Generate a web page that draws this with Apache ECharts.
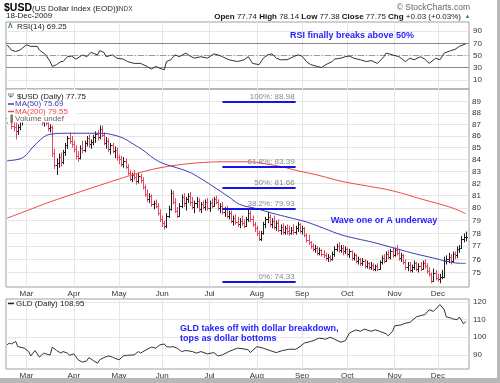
<!DOCTYPE html>
<html><head><meta charset="utf-8">
<script src="https://cdn.jsdelivr.net/npm/echarts@6/dist/echarts.min.js"></script>
<style>html,body{margin:0;padding:0;background:#fff}#c{width:500px;height:383px}</style>
</head><body><div id="c"></div>
<script>
// ---- categories (trading-day index, month starts) ----
const monthNames = ['Mar','Apr','May','Jun','Jul','Aug','Sep','Oct','Nov','Dec'];
const monthStartIdx = [9,31,52,72,94,116,137,158,180,200];
const dayCount = 214; // 17-Feb-2009 .. 18-Dec-2009

// ---- $USD daily bars [open, high, low, close] ----
const usdOHLC = [
[87.6,88.2,87.1,87.9],[87.9,88.4,87.3,87.5],[87.5,87.8,86.6,86.9],[86.9,87.4,86.4,86.8],[86.8,87.3,85.7,86.4],
[86.4,87.0,86.1,86.8],[86.8,87.6,86.5,87.3],[87.3,87.9,86.9,87.6],[87.6,88.3,87.3,88.1],
[88.1,88.9,87.9,88.6],[88.6,89.2,88.3,88.98],[88.98,89.1,88.2,88.5],[88.5,88.9,87.8,88.1],[88.1,88.6,87.5,87.8],
[87.8,88.4,87.4,88.2],[88.2,88.5,87.3,87.5],[87.5,87.9,86.9,87.2],[87.2,87.7,86.8,87.4],[87.4,87.6,86.9,87.1],
[87.1,87.2,86.4,86.7],[86.7,87.0,86.3,86.8],[86.8,86.9,84.2,84.5],[84.5,84.9,83.2,83.5],[83.5,84.1,82.7,83.7],
[83.7,84.5,83.3,84.2],[84.2,84.6,83.4,83.8],[83.8,84.8,83.6,84.6],[84.6,85.4,84.3,85.2],[85.2,86.0,84.9,85.8],
[85.8,86.3,85.3,85.6],[85.6,86.0,85.0,85.3],
[85.3,85.6,84.6,84.9],[84.9,85.2,84.0,84.3],[84.3,84.7,83.8,84.1],[84.1,85.2,84.0,85.0],[85.0,85.6,84.5,84.8],
[84.8,85.6,84.6,85.4],[85.4,86.0,85.1,85.8],[85.8,86.1,85.0,85.3],[85.3,85.7,84.9,85.5],[85.5,86.1,85.2,85.9],
[85.9,86.4,85.4,86.2],[86.2,86.5,85.6,85.9],[85.9,86.9,85.7,86.6],[86.6,86.9,85.9,86.1],[86.1,86.3,85.2,85.4],
[85.4,85.9,84.9,85.6],[85.6,85.8,84.6,84.9],[84.9,85.4,84.4,85.2],[85.2,85.4,84.5,84.7],[84.7,85.1,84.1,84.8],
[84.8,85.0,83.9,84.2],
[84.2,84.4,83.6,84.0],[84.0,84.3,83.4,83.6],[83.6,84.2,83.3,83.9],[83.9,84.1,83.2,83.4],[83.4,83.6,82.7,82.9],
[82.9,83.1,82.2,82.4],[82.4,82.9,82.1,82.7],[82.7,83.1,82.3,82.5],[82.5,82.8,81.9,82.2],[82.2,82.9,82.0,82.6],
[82.6,82.8,82.0,82.3],[82.3,82.5,81.5,81.7],[81.7,81.9,80.9,81.1],[81.1,81.5,80.5,80.7],[80.7,81.2,80.4,81.0],
[81.0,81.1,80.1,80.3],[80.3,80.6,79.9,80.4],[80.4,80.7,80.0,80.2],[80.2,80.4,79.4,79.6],[79.6,79.9,78.9,79.1],
[79.1,79.4,78.5,78.8],[78.8,79.0,78.3,78.6],[78.6,79.6,78.4,79.4],[79.4,80.2,79.2,79.9],[79.9,81.5,79.8,81.2],
[81.2,81.4,80.3,80.5],[80.5,80.8,79.6,79.8],[79.8,80.1,79.2,79.4],[79.4,80.4,79.3,80.2],[80.2,81.1,80.0,80.9],
[80.9,81.2,80.1,80.4],[80.4,80.9,79.8,80.7],[80.7,81.2,80.4,81.0],[81.0,81.3,80.2,80.5],[80.5,80.9,79.9,80.1],
[80.1,80.6,79.6,80.4],[80.4,80.9,80.0,80.6],[80.6,80.8,79.7,79.9],[79.9,80.5,79.6,80.3],[80.3,80.6,79.9,80.1],
[80.1,80.7,79.8,80.5],[80.5,80.8,79.8,80.0],
[80.0,80.6,79.7,80.4],[80.4,80.8,80.0,80.2],[80.2,80.9,80.1,80.7],[80.7,81.0,80.3,80.5],[80.5,80.7,79.8,80.0],
[80.0,80.4,79.6,80.2],[80.2,80.5,79.5,79.7],[79.7,80.1,79.3,79.9],[79.9,80.2,79.2,79.4],[79.4,79.8,79.1,79.6],
[79.6,79.8,78.8,79.0],[79.0,79.4,78.6,79.2],[79.2,79.5,78.7,78.9],[78.9,79.3,78.5,78.7],[78.7,79.2,78.4,79.0],
[79.0,79.4,78.6,78.8],[78.8,79.1,78.4,78.6],[78.6,79.3,78.5,79.1],[79.1,79.9,78.9,79.6],[79.6,79.8,78.9,79.1],
[79.1,79.4,78.5,78.7],[78.7,78.9,78.1,78.4],
[78.4,78.6,77.8,78.0],[78.0,78.2,77.4,77.6],[77.6,78.2,77.4,78.0],[78.0,78.9,77.9,78.7],[78.7,79.3,78.4,79.1],
[79.1,79.7,78.8,79.3],[79.3,79.5,78.5,78.7],[78.7,79.2,78.4,79.0],[79.0,79.4,78.3,78.5],[78.5,79.0,78.2,78.8],
[78.8,79.1,78.1,78.3],[78.3,78.7,77.9,78.5],[78.5,78.8,77.9,78.1],[78.1,78.6,77.9,78.4],[78.4,78.7,77.9,78.2],
[78.2,78.6,77.8,78.0],[78.0,78.5,77.9,78.3],[78.3,78.7,77.9,78.1],[78.1,78.6,77.9,78.4],[78.4,78.9,78.1,78.7],
[78.7,78.8,78.0,78.2],
[78.2,78.6,77.9,78.4],[78.4,78.5,77.7,77.9],[77.9,78.0,77.3,77.5],[77.5,77.9,77.1,77.3],[77.3,77.4,76.8,77.0],
[77.0,77.2,76.6,76.8],[76.8,77.1,76.5,76.9],[76.9,77.0,76.3,76.5],[76.5,76.9,76.3,76.7],[76.7,76.8,76.2,76.4],
[76.4,76.7,76.1,76.3],[76.3,76.5,75.9,76.1],[76.1,76.4,75.8,76.2],[76.2,76.3,75.8,76.0],[76.0,76.6,75.9,76.4],
[76.4,77.0,76.2,76.8],[76.8,77.2,76.6,77.0],[77.0,77.3,76.5,76.7],[76.7,77.1,76.5,76.9],[76.9,77.1,76.3,76.6],
[76.6,77.0,76.4,76.8],
[76.8,76.9,76.2,76.4],[76.4,76.8,76.1,76.6],[76.6,76.7,75.9,76.1],[76.1,76.5,75.9,76.3],[76.3,76.4,75.7,75.9],
[75.9,76.2,75.6,76.0],[76.0,76.1,75.5,75.7],[75.7,76.1,75.5,75.9],[75.9,76.0,75.3,75.5],[75.5,75.9,75.3,75.7],
[75.7,75.8,75.2,75.4],[75.4,75.8,75.2,75.6],[75.6,75.7,75.1,75.3],[75.3,75.6,75.1,75.5],[75.5,75.7,75.1,75.3],
[75.3,75.9,75.2,75.8],[75.8,76.3,75.6,76.1],[76.1,76.4,75.7,75.9],[75.9,76.6,75.8,76.4],[76.4,76.7,76.0,76.2],
[76.2,76.8,76.0,76.6],[76.6,76.9,76.1,76.3],
[76.3,76.9,76.2,76.7],[76.7,77.1,76.3,76.5],[76.5,76.8,75.9,76.1],[76.1,76.5,75.8,76.3],[76.3,76.4,75.6,75.8],
[75.8,76.0,75.2,75.4],[75.4,75.8,75.1,75.6],[75.6,75.8,75.0,75.2],[75.2,75.6,75.0,75.4],[75.4,75.9,75.2,75.7],
[75.7,75.8,75.1,75.3],[75.3,75.7,75.0,75.5],[75.5,75.8,75.1,75.3],[75.3,75.9,75.2,75.7],[75.7,76.0,75.3,75.5],
[75.5,75.7,74.9,75.1],[75.1,75.4,74.7,74.9],[74.9,75.0,74.2,74.4],[74.4,75.3,74.3,75.0],[75.0,75.2,74.4,74.6],
[74.6,74.9,74.3,74.5],[74.5,74.9,74.2,74.7],[74.7,75.2,74.5,74.7],[74.7,76.2,74.6,75.9],[75.9,76.3,75.6,76.0],
[76.0,76.5,75.7,76.2],[76.2,76.4,75.6,75.9],[75.9,76.6,75.8,76.4],[76.4,76.6,76.0,76.3],[76.3,77.0,76.1,76.8],
[76.8,77.1,76.5,76.9],[76.9,77.8,76.8,77.6],[77.6,78.0,77.3,77.7],[77.74,78.14,77.38,77.75]
];

// ---- moving averages [day index, value] ----
const ma50 = [[0,83.88],[6,84.05],[9,84.4],[12,85.05],[17,85.9],[20,86.14],[28,86.23],[35,86.23],[43,86.23],[48,86.14],
[54,85.8],[58,85.37],[63,84.8],[68,84.1],[72,83.7],[77,83.4],[84,82.98],[90,82.4],[97,81.6],[103,80.9],[108,80.3],
[116,79.95],[123,79.6],[131,79.25],[139,78.9],[147,78.4],[155,77.9],[162,77.6],[170,77.3],[181,76.8],[190,76.4],
[198,76.1],[204,75.85],[210,75.7],[213,75.69]];
const ma200 = [[0,79.2],[9,79.78],[20,80.5],[31,81.15],[43,81.85],[58,82.7],[66,83.1],[76,83.45],[88,83.7],[100,83.8],
[113,83.8],[121,83.6],[128,83.37],[135,83.05],[144,82.7],[156,82.15],[167,81.8],[179,81.4],[193,80.7],[206,80.06],[213,79.55]];

// ---- RSI(14) [day index, value] ----
const rsi14 = [[0,67.5],[2,59],[4,56.5],[6,59],[9,67.5],[11,65],[14,65],[15,59],[18,51],[20,40],[21,32],[23,35],[25,40],
[26,40],[28,48],[30,49],[32,44],[35,51],[37,48],[39,55],[42,51],[43,58],[45,55],[46,48],[49,51],[51,45.6],[54,44],
[56,40],[59,37],[62,37],[65,32],[67,27.6],[69,32],[71,29],[73,26.5],[74,40],[76,43],[78,51],[80,48],[83,54],[85,49],
[87,45.6],[90,48],[93,45.6],[96,52.7],[98,51],[100,48],[103,43],[107,40],[110,43],[112,48],[114,37],[117,35],[119,45.6],
[121,51],[123,52.7],[125,45.6],[127,43],[130,43],[133,48],[135,51],[137,49],[139,40],[141,35],[144,32],[146,30.3],
[148,35],[151,40],[152,44],[155,45.6],[157,48],[159,49],[161,45.6],[164,43],[167,40],[169,41.8],[172,37],[175,48],
[176,54],[179,51],[182,48],[185,40],[187,45.6],[189,43],[192,48],[194,44],[196,37],[199,45.6],[201,43],[203,54],
[206,58],[208,60],[210,65],[213,69.25]];

// ---- GLD daily close [day index, value] ----
const gld = [[0,95.7],[1,96.7],[2,96.2],[4,97.6],[5,94.7],[8,93.8],[10,91.9],[11,89.4],[13,92.5],[15,88.7],[17,91],
[18,90.6],[20,89.9],[21,94.4],[23,92.5],[25,91],[26,91.9],[28,91],[29,89.8],[31,90.6],[33,87.2],[35,85.9],[37,86.6],
[38,88.5],[40,86.8],[42,85.3],[43,87.2],[45,88.5],[47,89.4],[49,88.7],[50,88.1],[52,87.2],[54,89.4],[56,89.8],[59,90],
[61,91.9],[62,91],[65,93.2],[67,94.4],[69,93.8],[71,95.7],[73,96.2],[74,94.7],[76,94.4],[77,94.7],[79,93.8],[81,91.9],
[83,92.5],[86,91.9],[88,91],[90,91.9],[93,90.6],[96,91.3],[98,89.4],[100,90],[103,91.9],[105,92.9],[107,93.8],
[110,93.4],[112,92.9],[113,91.3],[116,94.7],[119,93.8],[122,92.5],[125,91.3],[128,92.5],[131,93.2],[134,93.2],
[136,94.7],[138,96.7],[141,97.6],[143,98.5],[145,99.5],[148,98.9],[150,100],[152,98.9],[155,97.2],[157,98],[159,102.4],
[162,104.2],[164,103.4],[166,104.6],[169,103.4],[171,104.2],[173,103.4],[176,102],[177,100.8],[179,103.4],[180,106.5],
[183,107],[185,108],[187,108.4],[190,111.5],[192,112.3],[194,112.8],[196,115.6],[198,114.7],[200,117.2],[201,118.5],
[203,115.6],[204,111.5],[206,111],[207,110.4],[209,110],[210,111.5],[212,107.6],[213,108.95]];

// ---- Fibonacci retracement levels ----
const fibLabels = ['100%','61.8%','50%','38.2%','0%'];
const fibValues = [88.98,83.39,81.66,79.93,74.33];
const fibFrom = 100, fibTo = 134;

// ---- tick labels ----
const usdTicks = [75,76,77,78,79,80,81,82,83,84,85,86,87,88,89];
const rsiTicks = [10,30,50,70,90];
const gldTicks = [90,100,110,120];

const FONT = '"Liberation Sans", Arial, sans-serif';
const GRID = {left:6, width:463};
const gridColor = '#e6e6e6';

function xAxisFor(gridIndex, showLabels) {
  return {
    type:'value', gridIndex, min:-0.5, max:dayCount + 0.5,
    axisLine:{show:false},
    axisTick:{show:false, customValues:monthStartIdx},
    axisLabel:{show:showLabels, customValues:monthStartIdx, margin:3,
      formatter:v => monthNames[monthStartIdx.indexOf(v)] || '',
      fontSize:8, fontFamily:FONT, color:'#333'},
    splitLine:{show:true, lineStyle:{color:gridColor, width:1}}
  };
}

const chart = echarts.init(document.getElementById('c'), null, {renderer:'canvas'});

const usdData = usdOHLC.map((r, i) => [i, r[0], r[1], r[2], r[3]]);

function txt(x, y, text, font, fill, align, extra) {
  return Object.assign({type:'text', x, y, z:100,
    style:{text, font, fill, textAlign:align||'left', align:align||'left',
      textVerticalAlign:'middle', verticalAlign:'middle'}}, extra||{});
}

const option = {
  animation:false,
  backgroundColor:'#fff',
  grid:[
    {left:GRID.left, width:GRID.width, top:22, height:67, show:true, borderColor:'#a0a0a0', borderWidth:1, outerBoundsMode:'none'},
    {left:GRID.left, width:GRID.width, top:89, height:198, show:true, borderColor:'#a0a0a0', borderWidth:1, outerBoundsMode:'none'},
    {left:GRID.left, width:GRID.width, top:299, height:70, show:true, borderColor:'#a0a0a0', borderWidth:1, outerBoundsMode:'none'}
  ],
  xAxis:[xAxisFor(0,false), xAxisFor(1,true), xAxisFor(2,true)],
  yAxis:[
    {type:'value', gridIndex:0, min:-5, max:105, position:'right',
     axisLine:{show:false}, axisTick:{show:false, customValues:rsiTicks},
     axisLabel:{customValues:rsiTicks, margin:4, fontSize:8, fontFamily:FONT, color:'#333'},
     splitLine:{show:true, lineStyle:{color:gridColor}}},
    {type:'log', gridIndex:1, min:73.92, max:90.14, position:'right',
     axisLine:{show:false}, axisTick:{show:false}, axisLabel:{show:false}, splitLine:{show:false}},
    {type:'value', gridIndex:2, min:82, max:121.7, position:'right',
     axisLine:{show:false}, axisTick:{show:false, customValues:gldTicks},
     axisLabel:{customValues:gldTicks, margin:4, fontSize:8, fontFamily:FONT, color:'#333'},
     splitLine:{show:true, lineStyle:{color:gridColor}}}
  ],
  series:[
    {type:'line', name:'RSI', xAxisIndex:0, yAxisIndex:0, data:rsi14, showSymbol:false, z:3,
     lineStyle:{color:'#333', width:1},
     markLine:{silent:true, symbol:'none', z:2, label:{show:false},
       data:[{yAxis:70, lineStyle:{color:'#888', width:1, type:'solid'}},
             {yAxis:30, lineStyle:{color:'#888', width:1, type:'solid'}},
             {yAxis:50, lineStyle:{color:'#999', width:1, type:[6,2,1,2]}}]}},
    {type:'line', name:'MA200', xAxisIndex:1, yAxisIndex:1, data:ma200, showSymbol:false, smooth:0.4, z:4,
     lineStyle:{color:'#f04848', width:1},
     markLine:{silent:true, symbol:'none', z:1,
       lineStyle:{color:gridColor, width:1, type:'solid'},
       label:{show:true, position:'end', distance:3, formatter:p => p.value, fontSize:8, fontFamily:FONT, color:'#333'},
       data:usdTicks.map(v => ({yAxis:v}))}},
    {type:'custom', name:'USD', xAxisIndex:1, yAxisIndex:1, data:usdData, z:3, clip:true,
     encode:{x:0, y:[1,2,3,4]},
     renderItem:(params, api) => {
       const i = api.value(0), o = api.value(1), h = api.value(2), l = api.value(3), c = api.value(4);
       const prevC = i > 0 ? usdOHLC[i-1][3] : o;
       const col = c >= prevC ? '#1e1e1e' : '#e8455f';
       const ph = api.coord([i,h]), pl = api.coord([i,l]), po = api.coord([i,o]), pc = api.coord([i,c]);
       const x = Math.round(ph[0]) + 0.5;
       const yo = Math.round(po[1]) + 0.5, yc = Math.round(pc[1]) + 0.5;
       const st = {stroke:col, lineWidth:1};
       return {type:'group', children:[
         {type:'line', shape:{x1:x, y1:ph[1], x2:x, y2:pl[1]}, style:st},
         {type:'line', shape:{x1:x-1.5, y1:yo, x2:x, y2:yo}, style:st},
         {type:'line', shape:{x1:x, y1:yc, x2:x+1.5, y2:yc}, style:st}
       ]};
     }},
    {type:'line', name:'MA50', xAxisIndex:1, yAxisIndex:1, data:ma50, showSymbol:false, smooth:0.4, z:5,
     lineStyle:{color:'#3c3cb0', width:1},
     markLine:{silent:true, symbol:'none', z:6,
       lineStyle:{color:'#1414e6', width:2, type:'solid'},
       label:{show:true, position:'insideEndTop', distance:1, formatter:p => p.name,
              fontSize:8, fontFamily:FONT, color:'#888'},
       data:fibValues.map((v, k) => [{coord:[fibFrom, v], name:fibLabels[k] + ': ' + v.toFixed(2)}, {coord:[fibTo, v]}])}},
    {type:'line', name:'GLD', xAxisIndex:2, yAxisIndex:2, data:gld, showSymbol:false, z:3,
     lineStyle:{color:'#333', width:1}}
  ],
  graphic:{elements:[
    // outer frame shadow
    {type:'rect', shape:{x:497, y:0, width:3, height:383}, style:{fill:'#b8b8b8'}, z:100},
    {type:'rect', shape:{x:0, y:378, width:500, height:5}, style:{fill:'#b8b8b8'}, z:100},
    // header
    txt(4, 8.5, '$USD', 'bold 10.5px ' + FONT, '#000'),
    txt(32, 9, '(US Dollar Index (EOD))', '8px ' + FONT, '#222'),
    txt(117, 9, 'INDX', '6.5px ' + FONT, '#444'),
    txt(6, 16, '18-Dec-2009', '8px ' + FONT, '#222'),
    txt(470, 7.5, '\u00a9 StockCharts.com', '8.5px ' + FONT, '#666', 'right'),
    {type:'text', x:461, y:16.5, z:100, style:{
      text:'{b|Open} 77.74 {b|High} 78.14 {b|Low} 77.38 {b|Close} 77.75 {b|Chg} +0.03 (+0.03%)',
      font:'8px ' + FONT, fill:'#222', textAlign:'right', align:'right', textVerticalAlign:'middle', verticalAlign:'middle',
      rich:{b:{font:'bold 8px ' + FONT, fill:'#111'}}}},
    txt(464.5, 16.5, '\u25b2', '6px ' + FONT, '#2c9a2c', 'left'),
    // RSI legend + note
    txt(8, 26.5, '\u039b', 'bold 7px ' + FONT, '#2a7a2a'),
    txt(17, 26.5, 'RSI(14) 69.25', '8px ' + FONT, '#222'),
    txt(352, 35.5, 'RSI finally breaks above 50%', 'bold 9px ' + FONT, '#1f1fff', 'center'),
    // main legend box
    {type:'rect', shape:{x:6.5, y:89.5, width:70, height:33}, style:{fill:'#fff'}, z:99},
    txt(8, 96.5, '\u03a8', '7px ' + FONT, '#444'),
    txt(17, 96.5, '$USD (Daily) 77.75', '8px ' + FONT, '#222'),
    {type:'line', shape:{x1:8, y1:104, x2:14, y2:104}, style:{stroke:'#3c3cb0', lineWidth:1.5}, z:100},
    txt(15, 104, 'MA(50) 75.69', '8px ' + FONT, '#3c3cb0'),
    {type:'line', shape:{x1:8, y1:111.5, x2:14, y2:111.5}, style:{stroke:'#f04848', lineWidth:1.5}, z:100},
    txt(15, 111.5, 'MA(200) 79.55', '8px ' + FONT, '#f04848'),
    txt(8, 119, '\u2590', '7px ' + FONT, '#777'),
    txt(15, 119, 'Volume undef', '8px ' + FONT, '#666'),
    txt(384, 221, 'Wave one or A underway', 'bold 9px ' + FONT, '#1f1fff', 'center'),
    // GLD legend + note
    {type:'line', shape:{x1:8, y1:303.5, x2:14, y2:303.5}, style:{stroke:'#222', lineWidth:1.5}, z:100},
    txt(16, 303.5, 'GLD (Daily) 108.95', '8px ' + FONT, '#222'),
    txt(180, 329, 'GLD takes off with dollar breakdown,', 'bold 9px ' + FONT, '#1f1fff'),
    txt(180, 338.5, 'tops as dollar bottoms', 'bold 9px ' + FONT, '#1f1fff')
  ]}
};
chart.setOption(option);
</script></body></html>
